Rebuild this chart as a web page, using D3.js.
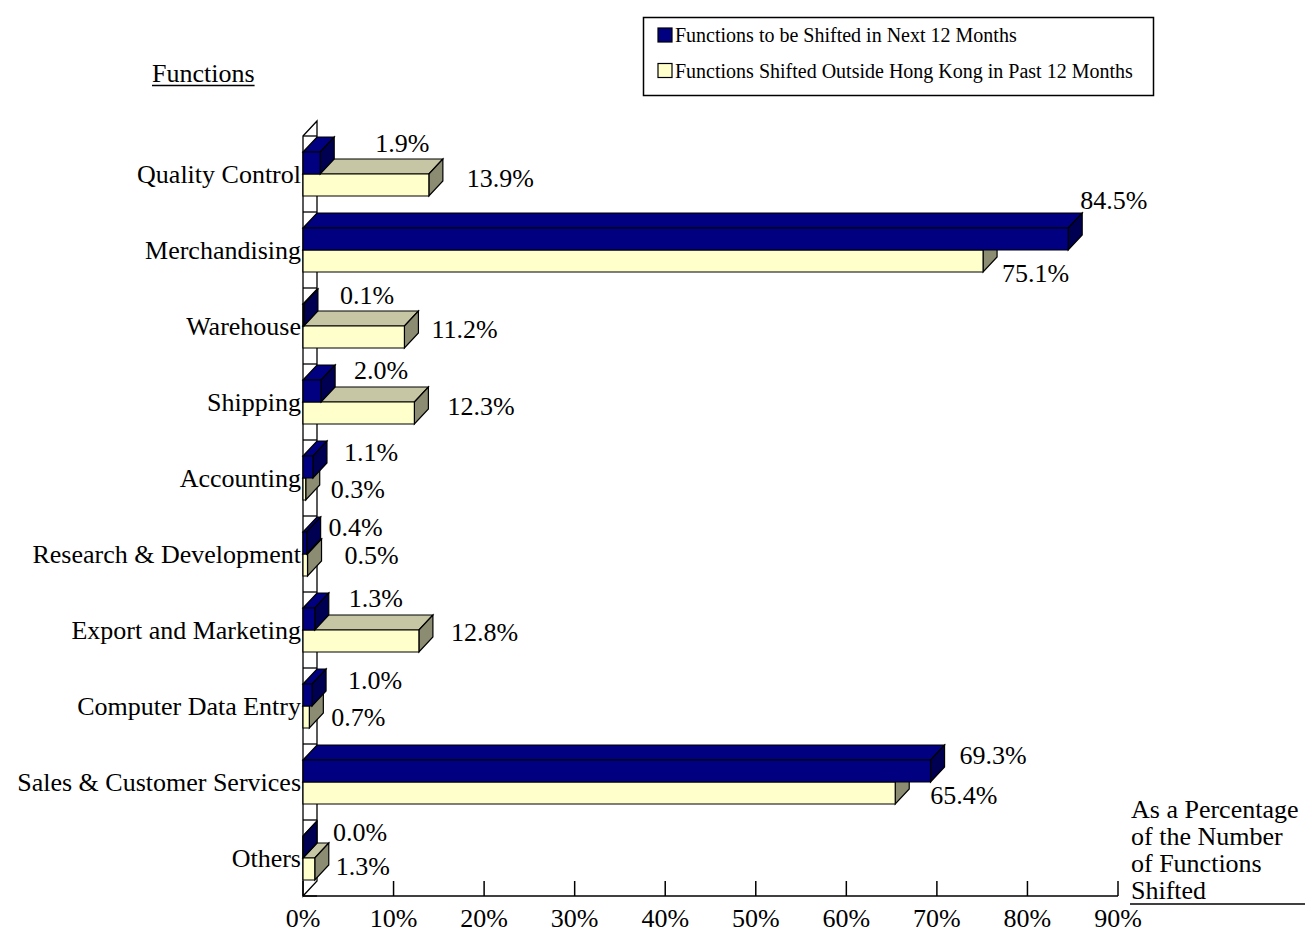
<!DOCTYPE html>
<html>
<head>
<meta charset="utf-8">
<script src="https://cdn.jsdelivr.net/npm/d3@7"></script>
<style>
  html, body { margin: 0; padding: 0; background: #fff; }
  svg text { font-family: "Liberation Serif", "Times New Roman", serif; fill: #000; }
</style>
</head>
<body>
<svg id="chart" width="1305" height="932"></svg>
<script>
// Functions and their shares (% of functions shifted)
const categories = [
  "Quality Control", "Merchandising", "Warehouse", "Shipping", "Accounting",
  "Research & Development", "Export and Marketing", "Computer Data Entry",
  "Sales & Customer Services", "Others"
];
const seriesNames = [
  "Functions to be Shifted in Next 12 Months",
  "Functions Shifted Outside Hong Kong in Past 12 Months"
];
const nextMonths = [1.9, 84.5, 0.1, 2.0, 1.1, 0.4, 1.3, 1.0, 69.3, 0.0];
const pastMonths = [13.9, 75.1, 11.2, 12.3, 0.3, 0.5, 12.8, 0.7, 65.4, 1.3];
const xTicks = [0, 10, 20, 30, 40, 50, 60, 70, 80, 90];
const unitNote = ["As a Percentage", "of the Number", "of Functions", "Shifted"];

// small nudges for value labels so they clear neighbouring bars
const nextLabelNudge = [[41,-9],[-2,-28],[22,-9],[19,-10],[17,-4],[8,-5],[20,-10],[22,-4],[15,-5],[16,-4]];
const pastLabelNudge = [[24,4],[5,23],[13,3],[19,4],[11,11],[23,1],[18,2],[8,11],[21,13],[7,8]];

const svg = d3.select("#chart");
const plot = { left: 303, right: 1118, top: 136, bottom: 896 };
const depth = { dx: 14, dy: 15 };
const FONT = "26px";

const x = d3.scaleLinear().domain([0, 90]).range([plot.left, plot.right]);
const y = d3.scaleBand().domain(categories).range([plot.top, plot.bottom]).padding(0);
const ySub = d3.scaleBand().domain(seriesNames).range([0, y.bandwidth()])
  .paddingInner(0).paddingOuter(32 / 44);

const palette = {
  next: { front: "#000080", top: "#000080", side: "#000052" },
  past: { front: "#FFFFCC", top: "#C6C6A4", side: "#8C8C72" }
};

// side wall (category plane)
const wall = svg.append("g");
wall.append("path")
  .attr("d", `M${plot.left},${plot.top} L${plot.left + depth.dx},${plot.top - depth.dy}
              L${plot.left + depth.dx},${plot.bottom - depth.dy} L${plot.left},${plot.bottom} Z`)
  .attr("fill", "#fff").attr("stroke", "#000").attr("stroke-width", 1.3);
// category separators on the wall
const bounds = categories.map(c => y(c)).concat([plot.bottom]);
wall.selectAll("line.sep").data(bounds).join("line")
  .attr("x1", plot.left).attr("x2", plot.left + depth.dx)
  .attr("y1", d => d).attr("y2", d => d)
  .attr("stroke", "#000").attr("stroke-width", 1.3);

// value axis
const axisG = svg.append("g");
axisG.append("line")
  .attr("x1", plot.left).attr("x2", plot.right)
  .attr("y1", plot.bottom).attr("y2", plot.bottom)
  .attr("stroke", "#000").attr("stroke-width", 1.5);
axisG.selectAll("line.tick").data(xTicks).join("line")
  .attr("x1", d => x(d)).attr("x2", d => x(d))
  .attr("y1", plot.bottom).attr("y2", plot.bottom - depth.dy)
  .attr("stroke", "#000").attr("stroke-width", 1.5);
axisG.selectAll("text").data(xTicks).join("text")
  .attr("x", d => x(d)).attr("y", 927)
  .attr("text-anchor", "middle")
  .style("font-size", FONT)
  .text(d => d + "%");

// draw one 3D bar
function bar3d(g, v, yTop, h, col) {
  const x0 = x(0), x1 = x(v), y0 = yTop, y1 = yTop + h;
  const poly = (pts, fill) => g.append("polygon")
    .attr("points", pts.map(q => q.join(",")).join(" "))
    .attr("fill", fill).attr("stroke", "#000").attr("stroke-width", 1.2);
  poly([[x0, y0], [x1, y0], [x1 + depth.dx, y0 - depth.dy], [x0 + depth.dx, y0 - depth.dy]], col.top);
  poly([[x1, y0], [x1, y1], [x1 + depth.dx, y1 - depth.dy], [x1 + depth.dx, y0 - depth.dy]], col.side);
  poly([[x0, y0], [x1, y0], [x1, y1], [x0, y1]], col.front);
}

const bars = svg.append("g");
categories.forEach((c, i) => {
  const g = bars.append("g");
  // past series lies lower, draw it first so the upper bar overlaps it
  bar3d(g, pastMonths[i], y(c) + ySub(seriesNames[1]), ySub.bandwidth(), palette.past);
  bar3d(g, nextMonths[i], y(c) + ySub(seriesNames[0]), ySub.bandwidth(), palette.next);
});

// value labels
const labels = svg.append("g").style("font-size", FONT);
categories.forEach((c, i) => {
  const nTop = y(c) + ySub(seriesNames[0]);
  labels.append("text")
    .attr("x", x(nextMonths[i]) + depth.dx + nextLabelNudge[i][0])
    .attr("y", nTop + nextLabelNudge[i][1] + 9)
    .text(nextMonths[i].toFixed(1) + "%");
  const mid = y(c) + y.bandwidth() / 2;
  labels.append("text")
    .attr("x", x(pastMonths[i]) + depth.dx + pastLabelNudge[i][0])
    .attr("y", mid + pastLabelNudge[i][1] + 9)
    .text(pastMonths[i].toFixed(1) + "%");
});

// category labels
svg.append("g").selectAll("text").data(categories).join("text")
  .attr("x", plot.left - 2).attr("y", d => y(d) + y.bandwidth() / 2 + 9)
  .attr("text-anchor", "end")
  .style("font-size", FONT)
  .text(d => d);

// axis titles
const title = svg.append("text").attr("x", 152).attr("y", 82)
  .style("font-size", FONT).text("Functions");
const tw = title.node().getComputedTextLength();
svg.append("line").attr("x1", 152).attr("x2", 152 + tw).attr("y1", 85.5).attr("y2", 85.5)
  .attr("stroke", "#000").attr("stroke-width", 1.5);

svg.append("g").selectAll("text").data(unitNote).join("text")
  .attr("x", 1131).attr("y", (d, i) => 818 + i * 27)
  .style("font-size", FONT)
  .text(d => d);
svg.append("line").attr("x1", 1130).attr("x2", 1305).attr("y1", 904).attr("y2", 904)
  .attr("stroke", "#000").attr("stroke-width", 1.5);

// legend
const legend = svg.append("g");
legend.append("rect").attr("x", 643.5).attr("y", 17.5).attr("width", 510).attr("height", 78)
  .attr("fill", "#fff").attr("stroke", "#000").attr("stroke-width", 1.5);
const legCols = [palette.next.front, palette.past.front];
seriesNames.forEach((s, i) => {
  const yy = 28 + i * 35.5;
  legend.append("rect").attr("x", 658).attr("y", yy).attr("width", 14).attr("height", 14)
    .attr("fill", legCols[i]).attr("stroke", "#000").attr("stroke-width", 1.2);
  legend.append("text").attr("x", 675).attr("y", yy + 14)
    .style("font-size", "20px")
    .text(s);
});
</script>
</body>
</html>
